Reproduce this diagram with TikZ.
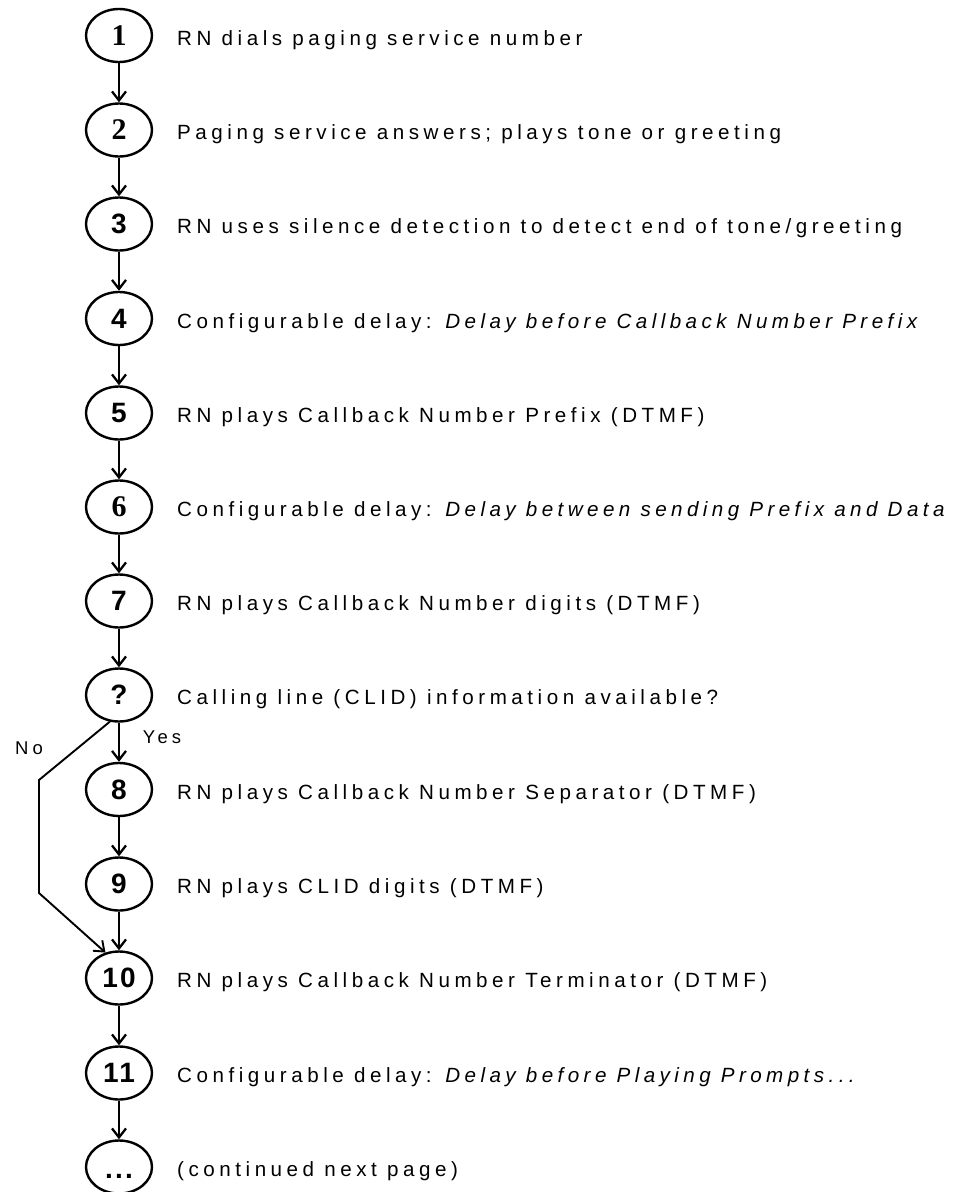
\documentclass[tikz,border=0pt]{standalone}
\usepackage{fontspec}
\usetikzlibrary{arrows.meta,shapes.geometric}
\newfontfamily\txtfont{Liberation Sans}[LetterSpace=22]
\newfontfamily\itxtfont{Liberation Sans}[LetterSpace=21.5]
\newfontfamily\numsans{Liberation Sans}[LetterSpace=8]
\newfontfamily\numserif{Liberation Serif}
\newcommand{\itx}[1]{{\itxtfont\itshape #1}}
\tikzset{
  stepell/.style={draw, ellipse, line width=2.4pt, minimum width=66pt, minimum height=53pt, inner sep=0pt},
  nsans/.style={font=\numsans\bfseries\fontsize{28}{30}\selectfont},
  nserif/.style={font=\numserif\bfseries\fontsize{30}{32}\selectfont},
  desc/.style={anchor=base west, inner sep=0pt, font=\txtfont\fontsize{20.6}{24}\selectfont},
  lbl/.style={inner sep=0pt, font=\txtfont\fontsize{18.5}{22}\selectfont},
  flow/.style={line width=2.3pt, -{Straight Barb[length=9pt,width=14pt,line width=2.3pt]}},
  noflow/.style={line width=1.9pt, -{Straight Barb[length=9pt,width=14pt,line width=1.9pt]}}
}
\begin{document}
\begin{tikzpicture}[x=1pt,y=-1pt]
\clip (0,0) rectangle (958,1192);
\fill[white] (0,0) rectangle (958,1192);
\def\cx{119}
% ellipses
\node[stepell,nserif] (n1) at (\cx,35.5) {1};
\node[stepell,nserif] (n2) at (\cx,130) {2};
\node[stepell,nsans] (n3) at (\cx,224) {3};
\node[stepell,nsans] (n4) at (\cx,318.5) {4};
\node[stepell,nsans] (n5) at (\cx,413) {5};
\node[stepell,nserif] (n6) at (\cx,507) {6};
\node[stepell,nsans] (n7) at (\cx,601) {7};
\node[stepell,nsans] (q) at (\cx,695) {?};
\node[stepell,nsans] (n8) at (\cx,789.5) {8};
\node[stepell,nsans] (n9) at (\cx,884) {9};
\node[stepell,nsans] (n10) at (\cx,978) {10};
\node[stepell,nsans] (n11) at (\cx,1073) {11};
\node[stepell] (n12) at (\cx,1167) {};
\node[nsans, anchor=base] (dots) at (\cx,1178) {...};
% texts
\node[desc] (t1) at (177,45) {RN dials paging service number};
\node[desc] (t2) at (177,139.5) {Paging service answers; plays tone or greeting};
\node[desc] (t3) at (177,233.5) {RN uses silence detection to detect end of tone/greeting};
\node[desc] (t4) at (177,328) {Configurable delay: \itx{Delay before Callback Number Prefix}};
\node[desc] (t5) at (177,422.5) {RN plays Callback Number Prefix (DTMF)};
\node[desc] (t6) at (177,516.5) {Configurable delay: \itx{Delay between sending Prefix and Data}};
\node[desc] (t7) at (177,610.5) {RN plays Callback Number digits (DTMF)};
\node[desc] (tq) at (177,704.5) {Calling line (CLID) information available?};
\node[desc] (t8) at (177,799) {RN plays Callback Number Separator (DTMF)};
\node[desc] (t9) at (177,893.5) {RN plays CLID digits (DTMF)};
\node[desc] (t10) at (177,987.5) {RN plays Callback Number Terminator (DTMF)};
\node[desc] (t11) at (177,1082.5) {Configurable delay: \itx{Delay before Playing Prompts...}};
\node[desc] (t12) at (177,1176.5) {(continued next page)};
% labels
\node[lbl] (yes) at (162,737) {Yes};
\node[lbl] (no) at (29,748) {No};
% arrows
\foreach \a/\b in {n1/n2,n2/n3,n3/n4,n4/n5,n5/n6,n6/n7,n7/q,q/n8,n8/n9,n9/n10,n10/n11,n11/n12}
  \draw[flow] (\a.south) -- (\b.north);
\coordinate (nb1) at (39,780);
\coordinate (nb2) at (39,893);
\draw[noflow] (q.251) -- (nb1) -- (nb2) -- (n10.118);
\end{tikzpicture}
\end{document}
